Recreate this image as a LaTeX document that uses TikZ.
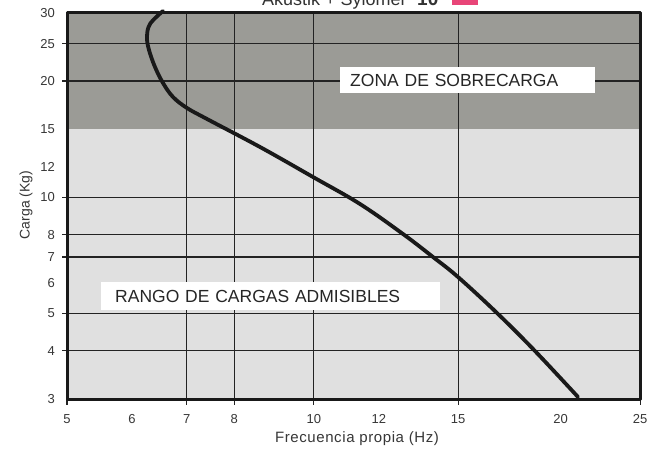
\documentclass[tikz,border=0pt]{standalone}
\usepackage{fontspec}
\setmainfont{Liberation Sans}
\definecolor{zonagris}{RGB}{155,155,150}
\definecolor{rangogris}{RGB}{224,224,224}
\definecolor{rosa}{RGB}{232,69,120}
\definecolor{rejilla}{RGB}{35,35,35}
\definecolor{rotulo}{RGB}{55,55,55}
\begin{document}
\begin{tikzpicture}[x=1pt,y=-1pt,line join=round,
	declare function={fx(\f)=67+820*log10(\f/5); fy(\k)=399-386*log10(\k/3);},
	rejilla/.style={draw=rejilla,line width=1.2pt},
	cifra/.style={text=rotulo,font=\fontsize{13}{15}\selectfont,inner sep=1pt},
	zona/.style={fill=white,anchor=north west,inner xsep=10pt,inner ysep=0pt,align=left,
		font=\fontsize{17.5}{20}\selectfont,text=black!85}]
	\useasboundingbox (0,0) rectangle (650,452);
	\clip (0,0) rectangle (650,452);
	\fill[white] (0,0) rectangle (650,452);
	% titulo (cortado arriba)
	\node[anchor=base west,inner sep=0pt,font=\fontsize{18}{20}\selectfont,text=black!80] (titulo) at (262,5.5) {Akustik + Sylomer};
	\node[anchor=base west,inner sep=0pt,font=\fontsize{19}{20}\selectfont\bfseries,text=black!80] (serie) at (417,5.5) {10};
	\node[fill=rosa,anchor=south west,minimum width=26pt,minimum height=26pt,inner sep=0pt] (marca) at (452,5.7) {};
	% zonas
	\fill[zonagris] (67,13) rectangle (640,{fy(15)});
	\fill[rangogris] (67,{fy(15)}) rectangle (640,399);
	% rejilla
	\foreach \f in {7,8,10,15}
		\draw[rejilla] ({fx(\f)},13) -- ({fx(\f)},405);
	\foreach \f in {5,25}
		\draw[rejilla] ({fx(\f)},399) -- ({fx(\f)},405);
	\foreach \k in {4,5,7,8,10,20,25}
		\draw[rejilla] (62,{fy(\k)}) -- (640,{fy(\k)});
	% rotulos de zona
	\node[zona,text width=235pt,minimum height=26pt] (sobrecarga) at (340,67) {ZONA DE SOBRECARGA};
	\node[zona,minimum height=28pt,inner xsep=14pt,text width=311pt] (admisibles) at (101,282) {RANGO DE CARGAS ADMISIBLES};
	% marco
	\draw[line width=3pt,black!90] (67,13) rectangle (640,399);
	% curva
	\draw[line width=3.8pt,black!90,line cap=round] plot[smooth,tension=0.6] coordinates {
		(163,11) (150,24) (147,37) (149,50) (155,67) (163,83) (173,97) (187,108)
		(207,119) (260,147) (313,177) (360,204) (403,234) (433,257) (458,277)
		(497,313) (535,351) (578,397)};
	% ejes
	\foreach \f in {5,6,7,8,10,12,15,20,25}
		\node[cifra,anchor=base] (x\f) at ({fx(\f)},423) {\f};
	\foreach \k in {3,4,5,6,7,8,10,12,15,20,25,30}
		\node[cifra,anchor=east] (y\k) at (56,{fy(\k)}) {\k};
	\node[font=\fontsize{15}{17}\selectfont\addfontfeatures{LetterSpace=4},text=rotulo] (ejex) at (357,439) {Frecuencia propia (Hz)};
	\node[rotate=90,font=\fontsize{14}{16}\selectfont,text=rotulo] (ejey) at (26,205) {Carga (Kg)};
\end{tikzpicture}
\end{document}
